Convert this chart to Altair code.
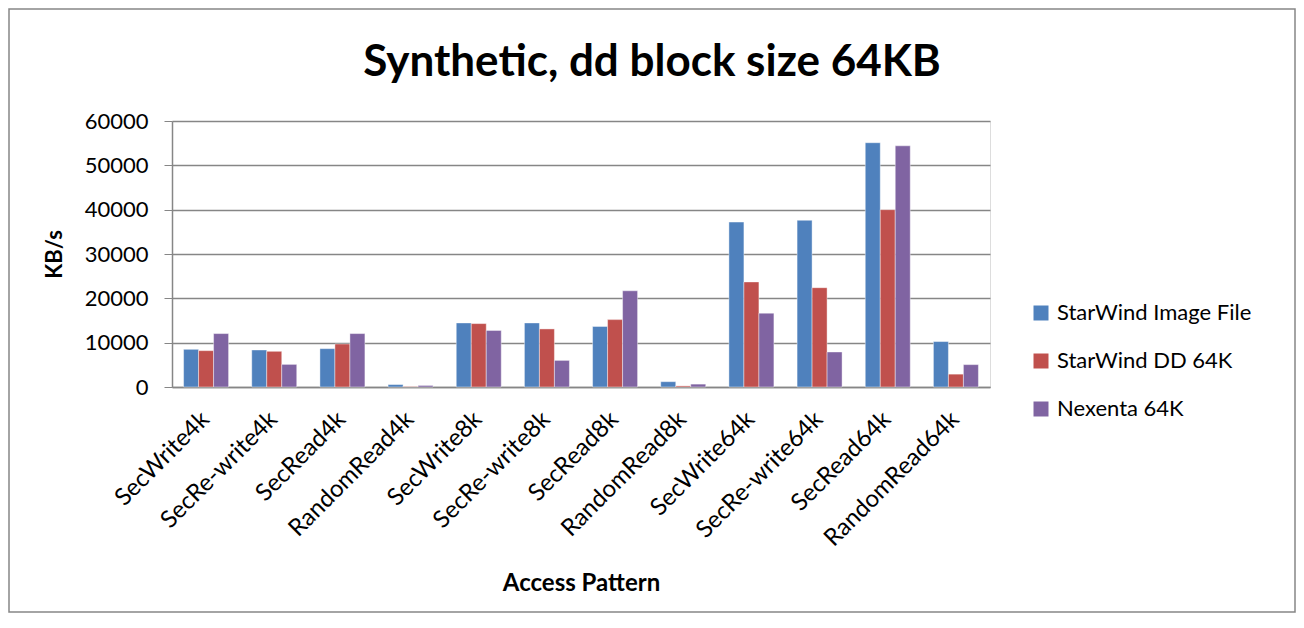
import altair as alt
import pandas as pd

categories = ["SecWrite4k", "SecRe-write4k", "SecRead4k", "RandomRead4k",
              "SecWrite8k", "SecRe-write8k", "SecRead8k", "RandomRead8k",
              "SecWrite64k", "SecRe-write64k", "SecRead64k", "RandomRead64k"]
series = ["StarWind Image File", "StarWind DD 64K", "Nexenta 64K"]
image_file = [8500, 8350, 8650, 550, 14450, 14450, 13650, 1200, 37200, 37600, 55100, 10250]
dd_64k = [8200, 8050, 9700, 100, 14300, 13100, 15200, 250, 23700, 22400, 40000, 2900]
nexenta_64k = [12050, 5100, 12050, 350, 12750, 6000, 21700, 650, 16650, 7900, 54400, 5050]
colors = ["#4F81BD", "#C0504D", "#8064A2"]

rows = []
for s, vals in zip(series, [image_file, dd_64k, nexenta_64k]):
    for c, v in zip(categories, vals):
        rows.append({"pattern": c, "series": s, "value": v})
df = pd.DataFrame(rows)

FONT = "Lato"

bars = alt.Chart(df).mark_bar(stroke="#ffffff", strokeWidth=0.6, strokeOpacity=0.7).encode(
    x=alt.X("pattern:N", sort=categories,
            scale=alt.Scale(paddingInner=0.34, paddingOuter=0.17),
            axis=alt.Axis(title="Access Pattern", labelAngle=-45, labelAlign="right",
                          labelBaseline="top", labelFontSize=24, labelFont=FONT,
                          labelColor="#000000", labelPadding=20, labelOffset=-9,
                          labelLimit=320, ticks=False,
                          domainColor="#868686", domainWidth=1.5,
                          titleFont=FONT, titleFontSize=24, titleFontWeight="bold",
                          titleColor="#000000", titleY=203, titleBaseline="alphabetic")),
    xOffset=alt.XOffset("series:N", sort=series),
    y=alt.Y("value:Q", scale=alt.Scale(domain=[0, 60000]),
            axis=alt.Axis(title="KB/s", values=[0, 10000, 20000, 30000, 40000, 50000, 60000],
                          format="d", labelFontSize=22, labelFont=FONT, labelColor="#000000",
                          tickSize=8, tickColor="#868686", labelPadding=16,
                          domainColor="#868686", domainWidth=1.5,
                          gridColor="#868686", gridWidth=1.5,
                          titleFont=FONT, titleFontSize=22, titleFontWeight="bold",
                          titleColor="#000000", titlePadding=18)),
    color=alt.Color("series:N", sort=series,
                    scale=alt.Scale(domain=series, range=colors),
                    legend=alt.Legend(title=None, orient="none", legendX=858, legendY=181,
                                      symbolType="square", symbolSize=225,
                                      symbolStrokeWidth=0, labelFontSize=22,
                                      labelFont=FONT, labelColor="#000000", labelLimit=320,
                                      rowPadding=26, labelOffset=5)),
)

border = alt.Chart(pd.DataFrame({"a": [0]})).mark_rect(
    fill=None, stroke="#868686", strokeWidth=1.5
).encode(
    x=alt.value(-163), x2=alt.value(1123),
    y=alt.value(-112), y2=alt.value(491),
)

chart = alt.layer(border, bars).properties(
    width=818, height=266,
    padding={"left": 164, "top": 113, "right": 306, "bottom": 226},
    autosize=alt.AutoSizeParams(type="none"),
    title=alt.TitleParams("Synthetic, dd block size 64KB", font=FONT, fontSize=44,
                          fontWeight="bold", color="#000000", anchor="middle",
                          dx=71, offset=-112, baseline="alphabetic"),
).configure_view(stroke=None).configure(background="#ffffff")

chart.save("out.html", embed_options={"renderer": "svg", "actions": False})
